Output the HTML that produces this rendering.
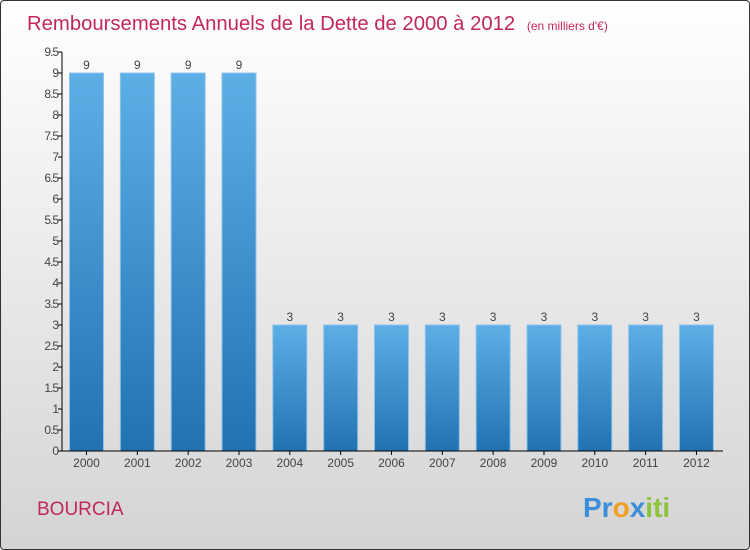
<!DOCTYPE html>
<html><head><meta charset="utf-8"><style>
body{margin:0;width:750px;height:550px;overflow:hidden;font-family:"Liberation Sans",sans-serif}
#wrap{position:absolute;left:0;top:0;width:748px;height:548px;border:1px solid #333;border-radius:4px;background:linear-gradient(#ffffff,#d4d4d4);overflow:hidden}
</style></head><body>
<div id="wrap">
<svg id="chart" width="750" height="550">
<text x="26" y="29" font-size="20.3" fill="#c2275c">Remboursements Annuels de la Dette de 2000 à 2012 <tspan font-size="12" dx="6">(en milliers d'€)</tspan></text>
<text x="36" y="514" font-size="19" fill="#c2275c">BOURCIA</text>
<text x="582" y="516" font-size="28" font-weight="bold"><tspan fill="#3a8fd8">Pr</tspan><tspan fill="#f0a020">o</tspan><tspan fill="#3a8fd8">x</tspan><tspan fill="#8cc43c">iti</tspan></text>
<g id="g"></g>
</svg>
</div>
<script>
const categories=["2000","2001","2002","2003","2004","2005","2006","2007","2008","2009","2010","2011","2012"];
const values=[9,9,9,9,3,3,3,3,3,3,3,3,3];
const valueLabels=["9","9","9","9","3","3","3","3","3","3","3","3","3"];
const yTicks=[0,0.5,1,1.5,2,2.5,3,3.5,4,4.5,5,5.5,6,6.5,7,7.5,8,8.5,9,9.5];
const NS="http://www.w3.org/2000/svg";
const g=document.getElementById('g');
const y0=450,pxPer=42,x0=85.5,step=50.83,bw=34,axX=61;
const ys=v=>y0-v*pxPer, xs=i=>x0+i*step;
function mk(t,a){const e=document.createElementNS(NS,t);for(const k in a)e.setAttribute(k,a[k]);g.appendChild(e);return e;}
const defs=mk('defs',{});
defs.innerHTML='<linearGradient id="bg" x1="0" y1="0" x2="0" y2="1"><stop offset="0" stop-color="#5eaee6"/><stop offset="1" stop-color="#2272b2"/></linearGradient>';
values.forEach((v,i)=>{
 const r=mk('rect',{x:xs(i)-bw/2,y:ys(v),width:bw,height:y0-ys(v),fill:'url(#bg)',stroke:'#8cc4ee','stroke-width':1});
 
 
 const t=mk('text',{x:xs(i),y:ys(v)-4,'font-size':12,fill:'#444','text-anchor':'middle'});
 t.textContent=valueLabels[i];
 
 
 const c=mk('text',{x:xs(i),y:y0+16,'font-size':12,fill:'#444','text-anchor':'middle'});
 c.textContent=categories[i];
 
 
 mk('line',{x1:xs(i),x2:xs(i),y1:y0,y2:y0+4,stroke:'#000'});
});
yTicks.forEach(v=>{
 mk('line',{x1:axX-4,x2:axX,y1:ys(v),y2:ys(v),stroke:'#000'});
 const t=mk('text',{x:axX-4,y:ys(v)+4,'font-size':12,fill:'#444','text-anchor':'end','letter-spacing':'-1'});
 t.textContent=String(v);
 
 
});
const ya=mk('line',{x1:axX,x2:axX,y1:ys(9.5),y2:y0,stroke:'#000'});


const xa=mk('line',{x1:axX-4,x2:722,y1:y0,y2:y0,stroke:'#000'});


</script>
</body></html>
